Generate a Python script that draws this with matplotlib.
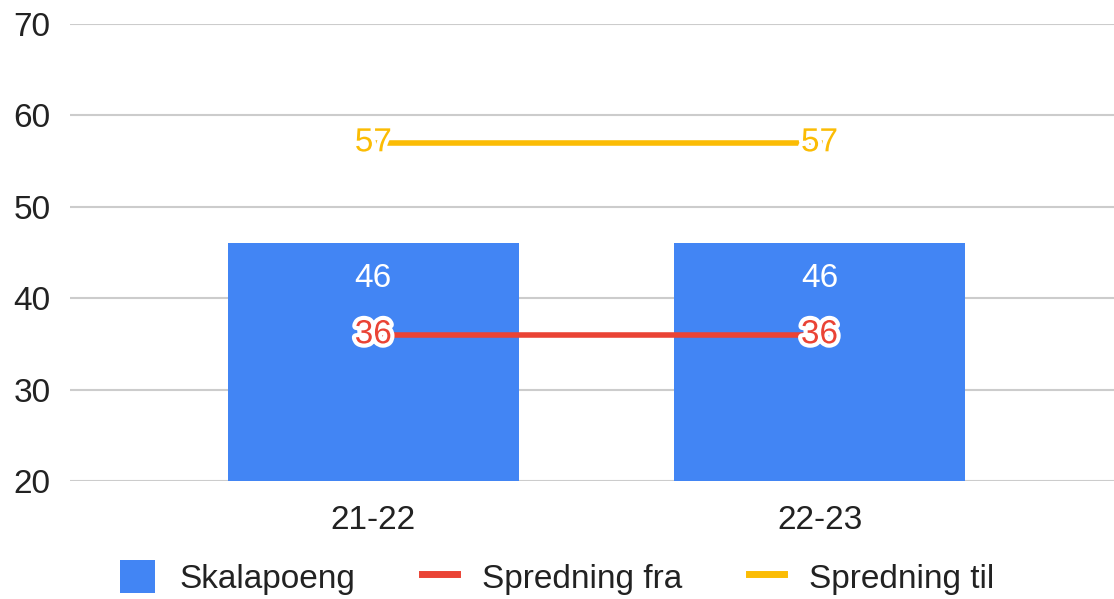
import matplotlib.pyplot as plt
import matplotlib.patheffects as pe
from matplotlib.patches import Patch
from matplotlib.lines import Line2D

plt.rcParams['font.family'] = ['Liberation Sans', 'DejaVu Sans']

years = ['21-22', '22-23']
skalapoeng = [46, 46]
spredning_fra = [36, 36]
spredning_til = [57, 57]

blue = '#4285F4'
red = '#EA4335'
yellow = '#FBBC04'
txt = '#222222'
fs = 24

fig = plt.figure(figsize=(11.14, 5.99), dpi=100)
ax = fig.add_axes([0.0628, 0.197, 0.9372, 0.763])

x = list(range(len(years)))
ax.bar(x, skalapoeng, width=0.653, color=blue, zorder=2)
ax.plot(x, spredning_fra, color=red, lw=4, zorder=3)
ax.plot(x, spredning_til, color=yellow, lw=4, zorder=3)

halo = [pe.withStroke(linewidth=6, foreground='white')]
for i in x:
    ax.text(i, skalapoeng[i] - 3.8, str(skalapoeng[i]), color='white',
            fontsize=fs, ha='center', va='center', zorder=4)
    ax.text(i, spredning_fra[i], str(spredning_fra[i]), color=red,
            fontsize=fs, ha='center', va='center', zorder=4, path_effects=halo)
    ax.text(i, spredning_til[i], str(spredning_til[i]), color=yellow,
            fontsize=fs, ha='center', va='center', zorder=4, path_effects=halo)

ax.set_ylim(20, 70)
ax.set_yticks(range(20, 71, 10))
ax.set_xlim(-0.68, 1.66)
ax.set_xticks(x)
ax.set_xticklabels(years)
ax.yaxis.grid(True, color='#cccccc', lw=1.5, zorder=0)
ax.tick_params(axis='both', length=0, labelsize=fs, labelcolor=txt)
ax.tick_params(axis='y', pad=14)
ax.tick_params(axis='x', pad=17)
for s in ax.spines.values():
    s.set_visible(False)
ax.axhline(20, color='#bbbbbb', lw=2, zorder=1)

handles = [Patch(facecolor=blue, label='Skalapoeng'),
           Line2D([0], [0], color=red, lw=5, label='Spredning fra'),
           Line2D([0], [0], color=yellow, lw=5, label='Spredning til')]
fig.legend(handles=handles, loc='center', bbox_to_anchor=(0.5, 0.036), ncol=3,
           frameon=False, fontsize=fs, handlelength=1.05, handleheight=1.15,
           columnspacing=2.0, handletextpad=0.75, labelcolor=txt)

fig.savefig('out.png', dpi=100)
